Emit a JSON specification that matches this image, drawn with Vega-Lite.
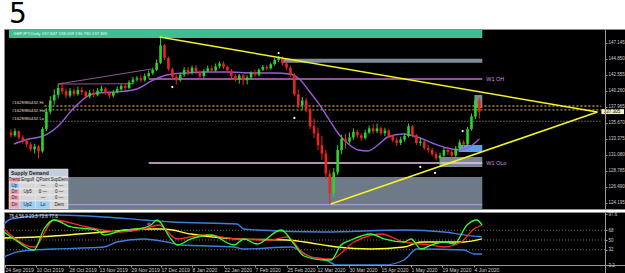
{
"$schema": "https://vega.github.io/schema/vega-lite/v6.json",
"background": "white",
"padding": 0,
"spacing": 0,
"title": {"text": "5", "anchor": "start", "fontSize": 28, "font": "DejaVu Sans", "fontWeight": "normal", "color": "#000000", "dx": 8, "offset": 0},
"config": {"view": {"fill": "#000000", "stroke": "#8c8c8c", "strokeWidth": 1}, "axis": {"grid": false}, "concat": {"spacing": 0}},
"resolve": {"scale": {"x": "independent", "y": "independent"}},
"datasets": {
"candles": [
{"v":0,"o":134.3,"h":134.8,"l":133.6,"c":133.9},{"v":1,"o":133.9,"h":134.9,"l":133.7,"c":134.5},{"v":2,"o":134.5,"h":134.6,"l":133.3,"c":133.6},{"v":3,"o":133.6,"h":133.9,"l":132.7,"c":133.1},{"v":4,"o":133.1,"h":133.4,"l":132.2,"c":132.6},{"v":5,"o":132.6,"h":132.9,"l":131.6,"c":131.9},{"v":6,"o":131.9,"h":132.7,"l":131.3,"c":132.3},{"v":7,"o":132.3,"h":132.5,"l":130.6,"c":131.6},{"v":8,"o":131.6,"h":135.1,"l":131.4,"c":134.8},{"v":9,"o":134.8,"h":137.8,"l":134.5,"c":137.3},
{"v":10,"o":137.3,"h":139.5,"l":136.9,"c":138.9},{"v":11,"o":138.9,"h":140.5,"l":138.3,"c":139.7},{"v":12,"o":139.7,"h":141.3,"l":139.2,"c":140.7},{"v":13,"o":140.7,"h":141.5,"l":139.8,"c":140.2},{"v":14,"o":140.2,"h":140.6,"l":139.2,"c":139.6},{"v":15,"o":139.6,"h":140.7,"l":139.3,"c":140.3},{"v":16,"o":140.3,"h":140.6,"l":139.5,"c":139.8},{"v":17,"o":139.8,"h":140.9,"l":139.6,"c":140.4},{"v":18,"o":140.4,"h":140.8,"l":139.7,"c":140.1},{"v":19,"o":140.1,"h":140.3,"l":139.2,"c":139.5},
{"v":20,"o":139.5,"h":140.4,"l":139.2,"c":140.0},{"v":21,"o":140.0,"h":140.5,"l":139.4,"c":139.7},{"v":22,"o":139.7,"h":140.7,"l":139.5,"c":140.3},{"v":23,"o":140.3,"h":141.0,"l":140.0,"c":140.6},{"v":24,"o":140.6,"h":140.8,"l":139.7,"c":140.0},{"v":25,"o":140.0,"h":140.3,"l":139.2,"c":139.6},{"v":26,"o":139.6,"h":140.4,"l":139.3,"c":140.1},{"v":27,"o":140.1,"h":140.9,"l":139.9,"c":140.5},{"v":28,"o":140.5,"h":141.3,"l":140.2,"c":141.0},{"v":29,"o":141.0,"h":141.4,"l":140.4,"c":140.7},
{"v":30,"o":140.7,"h":141.8,"l":140.5,"c":141.5},{"v":31,"o":141.5,"h":142.3,"l":141.2,"c":141.9},{"v":32,"o":141.9,"h":142.4,"l":141.6,"c":142.1},{"v":33,"o":142.1,"h":142.5,"l":141.5,"c":141.8},{"v":34,"o":141.8,"h":142.8,"l":141.6,"c":142.4},{"v":35,"o":142.4,"h":143.2,"l":142.1,"c":142.8},{"v":36,"o":142.8,"h":143.6,"l":142.6,"c":143.3},{"v":37,"o":143.3,"h":144.8,"l":143.1,"c":144.3},{"v":38,"o":144.3,"h":147.9,"l":144.1,"c":146.8},{"v":39,"o":146.8,"h":147.0,"l":144.7,"c":145.0},
{"v":40,"o":145.0,"h":145.2,"l":143.1,"c":143.4},{"v":41,"o":143.4,"h":143.6,"l":141.9,"c":142.3},{"v":42,"o":142.3,"h":142.6,"l":141.2,"c":141.8},{"v":43,"o":141.8,"h":142.9,"l":141.6,"c":142.6},{"v":44,"o":142.6,"h":143.7,"l":142.3,"c":143.3},{"v":45,"o":143.3,"h":143.7,"l":142.5,"c":142.9},{"v":46,"o":142.9,"h":143.9,"l":142.6,"c":143.6},{"v":47,"o":143.6,"h":144.0,"l":142.7,"c":143.0},{"v":48,"o":143.0,"h":143.2,"l":141.9,"c":142.4},{"v":49,"o":142.4,"h":143.4,"l":142.1,"c":143.1},
{"v":50,"o":143.1,"h":143.9,"l":142.9,"c":143.5},{"v":51,"o":143.5,"h":143.9,"l":142.9,"c":143.2},{"v":52,"o":143.2,"h":144.2,"l":143.0,"c":143.8},{"v":53,"o":143.8,"h":144.5,"l":143.5,"c":144.2},{"v":54,"o":144.2,"h":144.5,"l":143.4,"c":143.7},{"v":55,"o":143.7,"h":143.9,"l":142.8,"c":143.2},{"v":56,"o":143.2,"h":143.4,"l":142.1,"c":142.4},{"v":57,"o":142.4,"h":142.7,"l":141.6,"c":141.9},{"v":58,"o":141.9,"h":142.7,"l":141.3,"c":142.5},{"v":59,"o":142.5,"h":142.7,"l":141.1,"c":141.8},
{"v":60,"o":141.8,"h":142.5,"l":141.2,"c":142.2},{"v":61,"o":142.2,"h":143.1,"l":141.9,"c":142.9},{"v":62,"o":142.9,"h":143.3,"l":142.3,"c":142.6},{"v":63,"o":142.6,"h":143.5,"l":142.4,"c":143.3},{"v":64,"o":143.3,"h":144.0,"l":143.1,"c":143.7},{"v":65,"o":143.7,"h":144.0,"l":143.2,"c":143.5},{"v":66,"o":143.5,"h":144.3,"l":143.3,"c":144.1},{"v":67,"o":144.1,"h":145.0,"l":143.9,"c":144.7},{"v":68,"o":144.7,"h":145.3,"l":144.4,"c":145.0},{"v":69,"o":145.0,"h":145.2,"l":143.9,"c":144.2},
{"v":70,"o":144.2,"h":144.5,"l":143.3,"c":143.6},{"v":71,"o":143.6,"h":143.9,"l":142.3,"c":142.6},{"v":72,"o":142.6,"h":142.8,"l":139.5,"c":139.8},{"v":73,"o":139.8,"h":140.5,"l":137.8,"c":138.2},{"v":74,"o":138.2,"h":139.4,"l":137.5,"c":138.9},{"v":75,"o":138.9,"h":139.3,"l":137.2,"c":137.6},{"v":76,"o":137.6,"h":137.9,"l":134.8,"c":135.2},{"v":77,"o":135.2,"h":136.3,"l":133.5,"c":134.2},{"v":78,"o":134.2,"h":135.0,"l":131.8,"c":132.5},{"v":79,"o":132.5,"h":133.8,"l":130.4,"c":131.3},
{"v":80,"o":131.3,"h":131.8,"l":127.6,"c":128.4},{"v":81,"o":128.4,"h":129.0,"l":124.0,"c":125.6},{"v":82,"o":125.6,"h":129.2,"l":125.0,"c":128.6},{"v":83,"o":128.6,"h":132.5,"l":128.2,"c":131.8},{"v":84,"o":131.8,"h":134.0,"l":131.2,"c":133.4},{"v":85,"o":133.4,"h":134.1,"l":132.0,"c":133.0},{"v":86,"o":133.0,"h":134.3,"l":132.7,"c":133.6},{"v":87,"o":133.6,"h":134.9,"l":133.3,"c":134.4},{"v":88,"o":134.4,"h":134.7,"l":133.5,"c":133.9},{"v":89,"o":133.9,"h":134.2,"l":133.1,"c":133.5},
{"v":90,"o":133.5,"h":134.7,"l":133.3,"c":134.3},{"v":91,"o":134.3,"h":135.3,"l":134.1,"c":134.9},{"v":92,"o":134.9,"h":135.5,"l":134.1,"c":134.5},{"v":93,"o":134.5,"h":135.6,"l":134.2,"c":134.9},{"v":94,"o":134.9,"h":135.2,"l":133.9,"c":134.2},{"v":95,"o":134.2,"h":135.0,"l":133.8,"c":134.6},{"v":96,"o":134.6,"h":134.8,"l":133.5,"c":133.8},{"v":97,"o":133.8,"h":134.0,"l":132.9,"c":133.2},{"v":98,"o":133.2,"h":133.6,"l":132.4,"c":132.8},{"v":99,"o":132.8,"h":133.7,"l":132.5,"c":133.3},
{"v":100,"o":133.3,"h":134.2,"l":133.0,"c":133.8},{"v":101,"o":133.8,"h":135.6,"l":133.6,"c":135.2},{"v":102,"o":135.2,"h":135.4,"l":133.6,"c":133.9},{"v":103,"o":133.9,"h":134.1,"l":132.5,"c":132.8},{"v":104,"o":132.8,"h":133.5,"l":132.4,"c":133.0},{"v":105,"o":133.0,"h":133.2,"l":131.8,"c":132.1},{"v":106,"o":132.1,"h":132.5,"l":131.4,"c":131.8},{"v":107,"o":131.8,"h":132.1,"l":130.9,"c":131.2},{"v":108,"o":131.2,"h":131.6,"l":130.3,"c":130.6},{"v":109,"o":130.6,"h":131.4,"l":129.4,"c":131.0},
{"v":110,"o":131.0,"h":132.2,"l":130.8,"c":131.8},{"v":111,"o":131.8,"h":132.3,"l":131.1,"c":131.5},{"v":112,"o":131.5,"h":131.9,"l":130.7,"c":131.0},{"v":113,"o":131.0,"h":132.4,"l":130.8,"c":132.0},{"v":114,"o":132.0,"h":133.3,"l":131.8,"c":132.9},{"v":115,"o":132.9,"h":133.2,"l":132.2,"c":132.6},{"v":116,"o":132.6,"h":135.1,"l":132.4,"c":134.8},{"v":117,"o":134.8,"h":137.0,"l":134.6,"c":136.6},{"v":118,"o":136.6,"h":139.6,"l":136.2,"c":138.9},{"v":119,"o":138.9,"h":139.3,"l":136.3,"c":137.305}
],
"ma": [
{"v":0.75,"p":132.66},{"v":4.5,"p":133.37},{"v":8.25,"p":133.81},{"v":12,"p":135.24},{"v":15.75,"p":137.68},{"v":19.5,"p":139.54},{"v":22,"p":139.97},{"v":27,"p":140.12},{"v":32,"p":140.55},{"v":35.75,"p":141.7},{"v":39.5,"p":142.55},{"v":44.5,"p":142.84},{"v":49.5,"p":142.98},{"v":54.5,"p":142.98},{"v":62,"p":142.84},{"v":67,"p":142.84},{"v":70.75,"p":142.7},{"v":73.25,"p":141.98},{"v":75.75,"p":140.26},{"v":78.25,"p":138.4},{"v":80.75,"p":136.24},{"v":83.25,"p":134.09},{"v":85.75,"p":132.66},{"v":88.25,"p":131.8},{"v":90.75,"p":131.65},{"v":93.25,"p":132.51},{"v":95.75,"p":133.66},{"v":99.5,"p":134.09},{"v":103.25,"p":133.66},{"v":107,"p":132.8},{"v":110.75,"p":132.08},{"v":114,"p":131.8},{"v":116.5,"p":132.23},{"v":119,"p":133.375}
],
"trend": [{"g":"u","v":37.75,"p":148.0},{"g":"u","v":149,"p":137.25},{"g":"d","v":81.25,"p":124.05},{"g":"d","v":149,"p":137.25}],
"zones": [
{"k":"supply","v":-0.5,"v2":119.75,"p":147.86,"p2":149.05},
{"k":"grey","v":68.75,"v2":119.75,"p":144.3,"p2":144.9},
{"k":"band","v":-0.5,"v2":119.75,"p":123.33,"p2":127.92},
{"k":"box","v":109,"v2":119.75,"p":129.36,"p2":130.79},
{"k":"blue","v":113.75,"v2":119.75,"p":131.51,"p2":132.52},
{"k":"box","v":117.75,"v2":119.75,"p":137.82,"p2":139.69}
],
"hl": [
{"k":"oh","v":35,"v2":119.75,"p":141.98},
{"k":"olo","v":35,"v2":119.75,"p":129.93},
{"k":"lav","v":-0.5,"v2":119.75,"p":123.95},
{"k":"dotA","v":8.5,"v2":150,"p":138.11},
{"k":"dotB","v":8.5,"v2":150,"p":137.54},
{"k":"dotC","v":8.5,"v2":150,"p":135.9}
],
"vgrid": [{"v":3},{"v":18},{"v":31.75},{"v":45.5},{"v":59.5},{"v":72.75},{"v":87},{"v":101.25},{"v":115},{"v":133.5}],
"chan": [{"g":"a","v":12,"p":141.26},{"g":"a","v":35.75,"p":143.42},{"g":"b","v":12,"p":141.26},{"g":"b","v":31,"p":141.3}],
"dots": [{"v":41,"p":140.83},{"v":68,"p":145.71},{"v":72,"p":136.39},{"v":104,"p":129.36},{"v":107.75,"p":128.5},{"v":114.75,"p":134.52}],
"sd": [
{"k":"t","v":-0.5,"v2":14.5,"p":127.92,"p2":129.07},
{"k":"pink","v":-0.5,"v2":2.25,"p":127.06,"p2":127.92},{"k":"g","v":2.25,"v2":6.25,"p":127.06,"p2":127.92},{"k":"g","v":6.25,"v2":10,"p":127.06,"p2":127.92},{"k":"g","v":10,"v2":14.5,"p":127.06,"p2":127.92},
{"k":"blue","v":-0.5,"v2":2.25,"p":126.2,"p2":127.06},{"k":"g","v":2.25,"v2":6.25,"p":126.2,"p2":127.06},{"k":"g","v":6.25,"v2":10,"p":126.2,"p2":127.06},{"k":"g","v":10,"v2":14.5,"p":126.2,"p2":127.06},
{"k":"pink","v":-0.5,"v2":2.25,"p":125.34,"p2":126.2},{"k":"g","v":2.25,"v2":6.25,"p":125.34,"p2":126.2},{"k":"g","v":6.25,"v2":10,"p":125.34,"p2":126.2},{"k":"g","v":10,"v2":14.5,"p":125.34,"p2":126.2},
{"k":"pink","v":-0.5,"v2":2.25,"p":124.48,"p2":125.34},{"k":"g","v":2.25,"v2":6.25,"p":124.48,"p2":125.34},{"k":"g","v":6.25,"v2":10,"p":124.48,"p2":125.34},{"k":"g","v":10,"v2":14.5,"p":124.48,"p2":125.34},
{"k":"pink","v":-0.5,"v2":2.25,"p":123.33,"p2":124.48},{"k":"blue","v":2.25,"v2":6.25,"p":123.33,"p2":124.48},{"k":"blue","v":6.25,"v2":10,"p":123.33,"p2":124.48},{"k":"g","v":10,"v2":14.5,"p":123.33,"p2":124.48}
],
"sdt": [
{"v":0.875,"p":127.49,"t":"Trend"},{"v":4.25,"p":127.49,"t":"Engulf"},{"v":8.125,"p":127.49,"t":"QPoint"},{"v":12.25,"p":127.49,"t":"SupDem"},
{"v":0.875,"p":126.63,"t":"Up"},{"v":8.125,"p":126.63,"t":"—"},{"v":12.25,"p":126.63,"t":"0 —"},
{"v":0.875,"p":125.77,"t":"Dn"},{"v":4.25,"p":125.77,"t":"Up5"},{"v":8.125,"p":125.77,"t":"0 —"},{"v":12.25,"p":125.77,"t":"0 —"},
{"v":0.875,"p":124.91,"t":"Dn"},{"v":8.125,"p":124.91,"t":"—"},{"v":12.25,"p":124.91,"t":"0 —"},
{"v":0.875,"p":123.9,"t":"Dn"},{"v":4.25,"p":123.9,"t":"Up2"},{"v":8.125,"p":123.9,"t":"Lo"},{"v":12.25,"p":123.9,"t":"Dem"}
],
"sdh": [{"v":0.0,"p":128.5,"t":"Supply Demand"}],
"w1": [{"v":120.75,"p":141.98,"t":"W1 OH"},{"v":120.75,"p":129.93,"t":"W1 OLo"}],
"ids": [{"v":0.25,"p":138.6,"t":"#1628980432 Hi"},{"v":0.25,"p":137.45,"t":"#1628980432 Ho"},{"v":0.25,"p":136.2,"t":"#1628980432 Lo"}],
"hdr": [{"v":0.6,"p":148.45,"t":"GBPJPY,Daily 137.847 138.059 136.730 137.305"}],
"pbox": [{"v":150,"v2":155.75,"p":136.95,"p2":137.66,"pc":137.305,"t":"137.305"}],
"levels": [{"val":68,"v":-0.5,"v2":150},{"val":50,"v":-0.5,"v2":150},{"val":32,"v":-0.5,"v2":150}],
"osc": [
{"s":"a_up","v":-0.5,"val":79.6},{"s":"a_up","v":1.25,"val":88.9},{"s":"a_up","v":12,"val":96.3},{"s":"a_up","v":24.5,"val":92.6},{"s":"a_up","v":34.5,"val":87.0},{"s":"a_up","v":41.25,"val":83.3},{"s":"a_up","v":57.75,"val":79.6},{"s":"a_up","v":59.5,"val":70.4},{"s":"a_up","v":62.75,"val":68.5},{"s":"a_up","v":79.5,"val":64.8},{"s":"a_up","v":99.5,"val":68.5},{"s":"a_up","v":109.5,"val":64.8},{"s":"a_up","v":114.5,"val":59.3},{"s":"a_up","v":119,"val":55.6},
{"s":"b_lo","v":-0.5,"val":18.5},{"s":"b_lo","v":2.75,"val":27.8},{"s":"b_lo","v":7,"val":31.5},{"s":"b_lo","v":12,"val":33.3},{"s":"b_lo","v":24.5,"val":37.0},{"s":"b_lo","v":27.75,"val":46.3},{"s":"b_lo","v":34.5,"val":51.9},{"s":"b_lo","v":40.25,"val":46.3},{"s":"b_lo","v":43.75,"val":40.7},{"s":"b_lo","v":57,"val":37.0},{"s":"b_lo","v":59.5,"val":33.3},{"s":"b_lo","v":71.25,"val":37.0},{"s":"b_lo","v":76.25,"val":18.5},{"s":"b_lo","v":79.5,"val":14.8},{"s":"b_lo","v":82.75,"val":3.7},{"s":"b_lo","v":94.5,"val":3.7},{"s":"b_lo","v":99.5,"val":13.0},{"s":"b_lo","v":102.75,"val":33.3},{"s":"b_lo","v":114.5,"val":31.5},{"s":"b_lo","v":117,"val":24.1},{"s":"b_lo","v":119,"val":24.1},
{"s":"c_yel","v":-0.5,"val":53.7},{"s":"c_yel","v":7.75,"val":55.6},{"s":"c_yel","v":24.5,"val":64.8},{"s":"c_yel","v":34.5,"val":70.4},{"s":"c_yel","v":39.5,"val":70.4},{"s":"c_yel","v":46.25,"val":61.1},{"s":"c_yel","v":57.75,"val":51.9},{"s":"c_yel","v":70.25,"val":50.0},{"s":"c_yel","v":74.5,"val":46.3},{"s":"c_yel","v":79.5,"val":40.7},{"s":"c_yel","v":82.75,"val":37.0},{"s":"c_yel","v":91.25,"val":33.3},{"s":"c_yel","v":99.5,"val":37.0},{"s":"c_yel","v":103.75,"val":46.3},{"s":"c_yel","v":114.5,"val":46.3},{"s":"c_yel","v":119,"val":51.9},
{"s":"d_red","v":-0.5,"val":70.4},{"s":"d_red","v":7,"val":37.0},{"s":"d_red","v":12,"val":87.0},{"s":"d_red","v":20.25,"val":74.1},{"s":"d_red","v":28.75,"val":64.8},{"s":"d_red","v":34.5,"val":70.4},{"s":"d_red","v":38.25,"val":77.8},{"s":"d_red","v":42.75,"val":51.9},{"s":"d_red","v":49.5,"val":59.3},{"s":"d_red","v":57.75,"val":51.9},{"s":"d_red","v":66.25,"val":50.0},{"s":"d_red","v":70.25,"val":55.6},{"s":"d_red","v":74.5,"val":24.1},{"s":"d_red","v":79.5,"val":14.8},{"s":"d_red","v":81.25,"val":14.8},{"s":"d_red","v":87,"val":46.3},{"s":"d_red","v":93.75,"val":61.1},{"s":"d_red","v":99.5,"val":46.3},{"s":"d_red","v":106.25,"val":40.7},{"s":"d_red","v":109.5,"val":37.0},{"s":"d_red","v":113.75,"val":46.3},{"s":"d_red","v":117,"val":70.4},{"s":"d_red","v":119,"val":77.8},
{"s":"e_grn","v":-0.5,"val":64.8},{"s":"e_grn","v":2,"val":51.9},{"s":"e_grn","v":7,"val":31.5},{"s":"e_grn","v":9.5,"val":70.4},{"s":"e_grn","v":12,"val":87.0},{"s":"e_grn","v":16.25,"val":74.1},{"s":"e_grn","v":22.75,"val":68.5},{"s":"e_grn","v":24.5,"val":59.3},{"s":"e_grn","v":29.5,"val":68.5},{"s":"e_grn","v":32.75,"val":70.4},{"s":"e_grn","v":36.25,"val":77.8},{"s":"e_grn","v":37.75,"val":87.0},{"s":"e_grn","v":41.25,"val":51.9},{"s":"e_grn","v":42.75,"val":40.7},{"s":"e_grn","v":46.25,"val":51.9},{"s":"e_grn","v":51.25,"val":59.3},{"s":"e_grn","v":57,"val":40.7},{"s":"e_grn","v":59.5,"val":51.9},{"s":"e_grn","v":62.75,"val":42.6},{"s":"e_grn","v":68.75,"val":68.5},{"s":"e_grn","v":72,"val":42.6},{"s":"e_grn","v":74.5,"val":20.4},{"s":"e_grn","v":79.5,"val":13.0},{"s":"e_grn","v":81.25,"val":13.0},{"s":"e_grn","v":83.75,"val":40.7},{"s":"e_grn","v":86.25,"val":50.0},{"s":"e_grn","v":91.25,"val":61.1},{"s":"e_grn","v":94.5,"val":51.9},{"s":"e_grn","v":99.5,"val":46.3},{"s":"e_grn","v":101.25,"val":51.9},{"s":"e_grn","v":103.75,"val":33.3},{"s":"e_grn","v":106.25,"val":40.7},{"s":"e_grn","v":109.5,"val":46.3},{"s":"e_grn","v":112,"val":42.6},{"s":"e_grn","v":115.25,"val":77.8},{"s":"e_grn","v":117.75,"val":87.0},{"s":"e_grn","v":119,"val":77.8}
],
"mk": [{"v":31.25,"val":68.5},{"v":35.75,"val":79.6}],
"otxt": [{"v":0.75,"val":92,"t":"76.4 56.9 23.5 73.6 77.6"}]
},
"vconcat": [
{
"width": 625, "height": 180,
"resolve": {"scale": {"color": "independent", "strokeDash": "independent"}},
"encoding": {
 "x": {"field": "v", "type": "quantitative", "scale": {"domain": [-0.5, 155.75], "nice": false, "zero": false}, "axis": null},
 "y": {"field": "p", "type": "quantitative", "scale": {"domain": [123.334, 149.153], "nice": false, "zero": false},
   "axis": {"orient": "right", "offset": -24, "values": [124.195, 126.49, 128.785, 131.08, 133.375, 135.67, 137.965, 140.26, 142.555, 144.85, 147.145], "format": ".3f", "title": null, "grid": false, "domainColor": "#9a9a9a", "tickColor": "#9a9a9a", "tickSize": 2, "labelColor": "#cfcfcf", "labelFontSize": 4.5, "labelFont": "Liberation Sans", "labelPadding": 1, "zindex": 1, "labelOverlap": false, "labelFlush": false}}
},
"layer": [
{"data": {"name": "zones"}, "mark": {"type": "rect", "clip": true},
 "encoding": {"x2": {"field": "v2"}, "y2": {"field": "p2"},
  "color": {"field": "k", "type": "nominal", "scale": {"domain": ["supply", "grey", "band", "box", "blue"], "range": ["#3cbf93", "#7f8c99", "#6e7a88", "#7c8795", "#5c9fe6"]}, "legend": null}}},
{"data": {"name": "hl"}, "mark": {"type": "rule", "clip": true, "strokeWidth": 1.3},
 "encoding": {"x2": {"field": "v2"},
  "color": {"field": "k", "type": "nominal", "scale": {"domain": ["oh", "olo", "lav", "dotA", "dotB", "dotC"], "range": ["#c46ad0", "#f2c0ee", "#a898d8", "#b8864a", "#9c8c74", "#8a8a8a"]}, "legend": null},
  "strokeDash": {"field": "k", "type": "nominal", "scale": {"domain": ["oh", "olo", "lav", "dotA", "dotB", "dotC"], "range": [[1, 0], [1, 0], [1, 0], [2, 2], [2, 2], [1, 2]]}, "legend": null}}},
{"data": {"name": "chan"}, "mark": {"type": "line", "color": "#b070b0", "strokeWidth": 0.8},
 "encoding": {"detail": {"field": "g"}}},
{"data": {"name": "ma"}, "mark": {"type": "line", "color": "#9b5bdc", "strokeWidth": 1.4, "interpolate": "monotone"}, "encoding": {}},
{"data": {"name": "candles"}, "mark": {"type": "rule", "strokeWidth": 1},
 "encoding": {"y": {"field": "l", "type": "quantitative", "scale": {"domain": [123.334, 149.153], "nice": false, "zero": false},
   "axis": {"orient": "right", "offset": -24, "values": [124.195, 126.49, 128.785, 131.08, 133.375, 135.67, 137.965, 140.26, 142.555, 144.85, 147.145], "format": ".3f", "title": null, "grid": false, "domainColor": "#9a9a9a", "tickColor": "#9a9a9a", "tickSize": 2, "labelColor": "#cfcfcf", "labelFontSize": 4.5, "labelFont": "Liberation Sans", "labelPadding": 1, "zindex": 1, "labelOverlap": false, "labelFlush": false}},
  "y2": {"field": "h"},
  "color": {"condition": {"test": "datum.c >= datum.o", "value": "#2bd42b"}, "value": "#e8251e"}}},
{"data": {"name": "candles"}, "mark": {"type": "bar", "width": 2.6},
 "encoding": {"y": {"field": "o", "type": "quantitative", "scale": {"domain": [123.334, 149.153], "nice": false, "zero": false},
   "axis": {"orient": "right", "offset": -24, "values": [124.195, 126.49, 128.785, 131.08, 133.375, 135.67, 137.965, 140.26, 142.555, 144.85, 147.145], "format": ".3f", "title": null, "grid": false, "domainColor": "#9a9a9a", "tickColor": "#9a9a9a", "tickSize": 2, "labelColor": "#cfcfcf", "labelFontSize": 4.5, "labelFont": "Liberation Sans", "labelPadding": 1, "zindex": 1, "labelOverlap": false, "labelFlush": false}},
  "y2": {"field": "c"},
  "color": {"condition": {"test": "datum.c >= datum.o", "value": "#2bd42b"}, "value": "#e8251e"}}},
{"data": {"name": "trend"}, "mark": {"type": "line", "color": "#f5f51e", "strokeWidth": 1.5},
 "encoding": {"detail": {"field": "g"}}},
{"data": {"name": "dots"}, "mark": {"type": "circle", "color": "#ffffff", "size": 5, "opacity": 1}, "encoding": {}},
{"data": {"name": "sd"}, "mark": {"type": "rect", "stroke": "#f4f4f4", "strokeWidth": 0.5, "clip": true},
 "encoding": {"x2": {"field": "v2"}, "y2": {"field": "p2"},
  "color": {"field": "k", "type": "nominal", "scale": {"domain": ["t", "g", "pink", "blue"], "range": ["#c5cfda", "#d6d6d6", "#f2a7b8", "#9ccff2"]}, "legend": null}}},
{"data": {"name": "sdt"}, "mark": {"type": "text", "fontSize": 4.5, "color": "#202020", "font": "Liberation Sans"},
 "encoding": {"text": {"field": "t"}}},
{"data": {"name": "sdh"}, "mark": {"type": "text", "align": "left", "fontSize": 5, "color": "#202020", "font": "Liberation Sans", "fontWeight": "bold"},
 "encoding": {"text": {"field": "t"}}},
{"data": {"name": "w1"}, "mark": {"type": "text", "align": "left", "fontSize": 5.5, "color": "#d98ee0", "font": "Liberation Sans"},
 "encoding": {"text": {"field": "t"}}},
{"data": {"name": "ids"}, "mark": {"type": "text", "align": "left", "fontSize": 4.3, "color": "#eadbc8", "font": "Liberation Sans"},
 "encoding": {"text": {"field": "t"}}},
{"data": {"name": "hdr"}, "mark": {"type": "text", "align": "left", "fontSize": 4.3, "color": "#f0fff6", "font": "Liberation Sans"},
 "encoding": {"text": {"field": "t"}}},
{"data": {"name": "pbox"}, "mark": {"type": "rect", "color": "#f3efc4"},
 "encoding": {"x2": {"field": "v2"}, "y2": {"field": "p2"}}},
{"data": {"name": "pbox"}, "mark": {"type": "text", "align": "left", "dx": 2.5, "fontSize": 4.5, "color": "#000000", "font": "Liberation Sans"},
 "encoding": {"y": {"field": "pc", "type": "quantitative", "scale": {"domain": [123.334, 149.153], "nice": false, "zero": false},
   "axis": {"orient": "right", "offset": -24, "values": [124.195, 126.49, 128.785, 131.08, 133.375, 135.67, 137.965, 140.26, 142.555, 144.85, 147.145], "format": ".3f", "title": null, "grid": false, "domainColor": "#9a9a9a", "tickColor": "#9a9a9a", "tickSize": 2, "labelColor": "#cfcfcf", "labelFontSize": 4.5, "labelFont": "Liberation Sans", "labelPadding": 1, "zindex": 1, "labelOverlap": false, "labelFlush": false}},
  "text": {"field": "t"}}}
]
},
{
"width": 625, "height": 62,
"resolve": {"scale": {"color": "independent"}},
"encoding": {
 "x": {"field": "v", "type": "quantitative", "scale": {"domain": [-0.5, 155.75], "nice": false, "zero": false},
 "axis": {"orient": "bottom", "offset": -9, "values": [-0.25, 7.5, 15.75, 23.25, 31.25, 38.75, 46.5, 54.5, 62.25, 70.25, 77.75, 85.75, 93.75, 101.25, 109, 117],
  "labelExpr": "['24 Sep 2019','10 Oct 2019','28 Oct 2019','13 Nov 2019','29 Nov 2019','17 Dec 2019','8 Jan 2020','22 Jan 2020','7 Feb 2020','25 Feb 2020','12 Mar 2020','30 Mar 2020','15 Apr 2020','1 May 2020','19 May 2020','4 Jun 2020'][indexof([-0.25,7.5,15.75,23.25,31.25,38.75,46.5,54.5,62.25,70.25,77.75,85.75,93.75,101.25,109,117], datum.value)]",
  "labelAlign": "left", "labelBaseline": "top", "labelFlush": false, "labelOverlap": false, "tickSize": 2, "labelPadding": 0, "labelFontSize": 5, "labelFont": "Liberation Sans", "labelColor": "#cfcfcf", "domainColor": "#9a9a9a", "tickColor": "#9a9a9a", "title": null, "grid": false, "zindex": 1}},
 "y": {"field": "val", "type": "quantitative", "scale": {"domain": [-12.97, 101.86], "nice": false, "zero": false},
   "axis": {"orient": "right", "offset": -24, "values": [3.2, 32, 50, 68, 97.6], "format": ".3~g", "title": null, "grid": false, "domainColor": "#9a9a9a", "tickColor": "#9a9a9a", "tickSize": 2, "labelColor": "#cfcfcf", "labelFontSize": 4.5, "labelFont": "Liberation Sans", "labelPadding": 1, "zindex": 1, "labelOverlap": false, "labelFlush": false}}
},
"layer": [
{"data": {"name": "levels"}, "mark": {"type": "rule", "color": "#8a8a8a", "strokeDash": [1, 2], "strokeWidth": 0.8},
 "encoding": {"x2": {"field": "v2"}}},
{"data": {"name": "osc"}, "mark": {"type": "line", "strokeWidth": 1.3, "interpolate": "monotone"},
 "encoding": {"color": {"field": "s", "type": "nominal", "scale": {"domain": ["a_up", "b_lo", "c_yel", "d_red", "e_grn"], "range": ["#3d7fe0", "#3d7fe0", "#ffff33", "#ff2a1f", "#33ff33"]}, "legend": null}}},
{"data": {"name": "mk"}, "mark": {"type": "point", "shape": "cross", "filled": true, "color": "#ff3cff", "size": 14}, "encoding": {}},
{"data": {"name": "otxt"}, "mark": {"type": "text", "align": "left", "fontSize": 4.5, "color": "#e6e6e6", "font": "Liberation Sans"},
 "encoding": {"text": {"field": "t"}}}
]
}
]
}
